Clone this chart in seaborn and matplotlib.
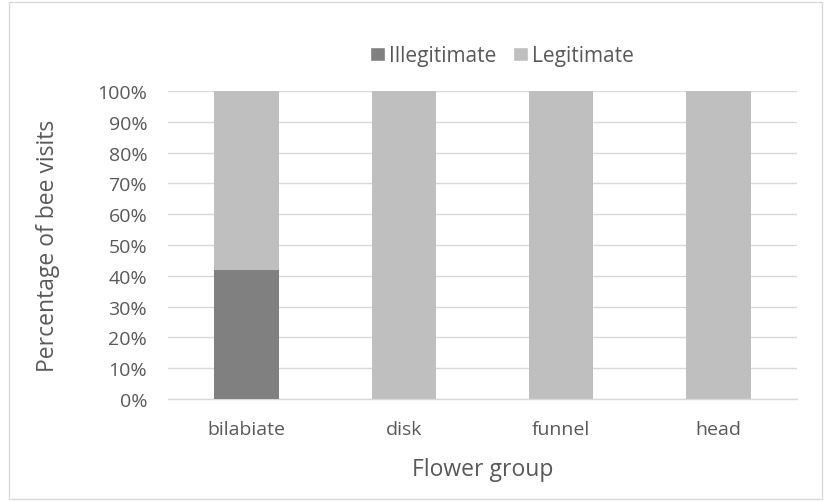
import matplotlib
matplotlib.use("Agg")
import matplotlib.pyplot as plt
import seaborn as sns
import pandas as pd
from matplotlib.patches import Patch, Rectangle
from matplotlib.ticker import PercentFormatter

groups = ["bilabiate", "disk", "funnel", "head"]
illegitimate = [42, 0, 0, 0]
legitimate = [58, 100, 100, 100]
y_ticks = [0, 10, 20, 30, 40, 50, 60, 70, 80, 90, 100]

sns.set_theme(style="white")
plt.rcParams["font.family"] = ["Open Sans", "DejaVu Sans"]

text_color = "#595959"
c_illeg = "#808080"
c_leg = "#BFBFBF"

df = pd.DataFrame({"group": groups,
                   "illegitimate": illegitimate,
                   "legitimate": legitimate})
df["total"] = df["illegitimate"] + df["legitimate"]

fig = plt.figure(figsize=(8.27, 5.02), dpi=100)
ax = fig.add_axes([0.2031, 0.2032, 0.7606, 0.6135])

# stacked bars: full total in light grey, illegitimate share drawn over it
sns.barplot(data=df, x="group", y="total", color=c_leg, width=0.41,
            saturation=1, linewidth=0, ax=ax, zorder=2)
sns.barplot(data=df, x="group", y="illegitimate", color=c_illeg, width=0.41,
            saturation=1, linewidth=0, ax=ax, zorder=3)

ax.set_ylim(0, 100)
ax.set_xlim(-0.5, 3.5)
ax.set_yticks(y_ticks)
ax.yaxis.set_major_formatter(PercentFormatter(decimals=0))
ax.grid(axis="y", color="#D9D9D9", linewidth=1, zorder=0)
ax.set_axisbelow(True)
for s in ["top", "right", "left"]:
    ax.spines[s].set_visible(False)
ax.spines["bottom"].set_color("#D9D9D9")
ax.spines["bottom"].set_linewidth(1)
ax.tick_params(axis="both", length=0, colors=text_color, labelsize=14)
ax.tick_params(axis="y", pad=15)
ax.tick_params(axis="x", pad=15)

ax.set_xlabel("Flower group", fontsize=16.5, color=text_color, labelpad=14)
ax.set_ylabel("Percentage of bee visits", fontsize=16.5, color=text_color,
              labelpad=27)

handles = [Patch(facecolor=c_illeg, label="Illegitimate"),
           Patch(facecolor=c_leg, label="Legitimate")]
fig.legend(handles=handles, loc="center", bbox_to_anchor=(0.607, 0.887),
           ncol=2, frameon=False, fontsize=15, labelcolor=text_color,
           handlelength=0.7, handleheight=0.7, handletextpad=0.2,
           columnspacing=0.8)

# outer chart border
fig.patches.append(Rectangle((0.011, 0.004), 0.983, 0.99,
                             transform=fig.transFigure, fill=False,
                             edgecolor="#D9D9D9", linewidth=1))

fig.savefig("out.png", dpi=100, facecolor="white")
